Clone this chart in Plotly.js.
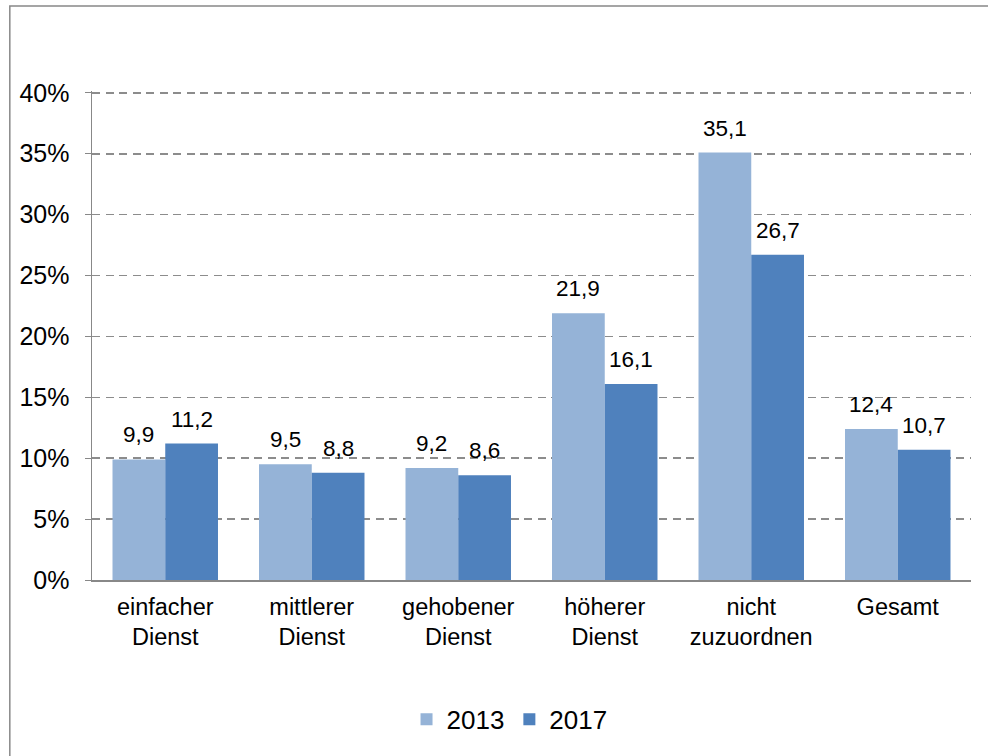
<!DOCTYPE html>
<html><head><meta charset="utf-8">
<script src="https://cdn.plot.ly/plotly-3.0.1.min.js"></script>
<style>html,body{margin:0;padding:0;background:#fff}#chart{width:988px;height:756px}</style>
</head><body><div id="chart"></div>
<script>
const categories = ["einfacher<br>Dienst","mittlerer<br>Dienst","gehobener<br>Dienst","höherer<br>Dienst","nicht<br>zuzuordnen","Gesamt"];
const values2013 = [9.9, 9.5, 9.2, 21.9, 35.1, 12.4];
const values2017 = [11.2, 8.8, 8.6, 16.1, 26.7, 10.7];
const seriesNames = ["2013","2017"];
const tickValues = [0, 5, 10, 15, 20, 25, 30, 35, 40];
const tickLabels = ["0%","5%","10%","15%","20%","25%","30%","35%","40%"];
const fmt = v => v.toFixed(1).replace('.', ',');
const font = "Liberation Sans, Arial, sans-serif";
const traces = [
  {type:'bar', name:seriesNames[0], x:categories, y:values2013, marker:{color:'#95B3D7'}},
  {type:'bar', name:seriesNames[1], x:categories, y:values2017, marker:{color:'#4F81BD'}}
];
const annotations = [];
[values2013, values2017].forEach((vals, s) => {
  vals.forEach((v, i) => annotations.push({
    x: categories[i], y: v, xref:'x', yref:'y', text: fmt(v), showarrow:false,
    xanchor:'center', yanchor:'bottom', xshift: s === 0 ? -26.4 : 26.4, yshift: 10,
    font:{family:font, size:22.5, color:'#000'}
  }));
});
const layout = {
  width:988, height:756,
  margin:{l:92, r:17, t:91, b:176},
  paper_bgcolor:'#fff', plot_bgcolor:'#fff',
  font:{family:font, color:'#000'},
  barmode:'group', bargap:0.28, bargroupgap:0,
  xaxis:{showline:true, linecolor:'#888', linewidth:1.5, ticks:'', tickfont:{size:23.5, family:font}, ticklabelstandoff:5, fixedrange:true},
  yaxis:{range:[0,40.15], tickmode:'array', tickvals:tickValues, ticktext:tickLabels, showline:true, linecolor:'#888', linewidth:1.5,
    ticks:'outside', ticklen:6, tickcolor:'#888', tickfont:{size:25, family:font}, ticklabelstandoff:10,
    showgrid:true, gridcolor:'#8c8c8c', griddash:'8px,5.5px', gridwidth:1.6, zeroline:false},
  showlegend:true,
  legend:{orientation:'h', x:0.475, xanchor:'center', y:-0.285, yanchor:'middle', font:{size:26, family:font}, traceorder:'normal', itemwidth:30},
  annotations: annotations,
  shapes:[{type:'rect', xref:'paper', yref:'paper', x0:-0.0935, x1:1.05, y0:-0.5, y1:1.174, line:{color:'#888', width:1.5}, fillcolor:'rgba(0,0,0,0)'}]
};
Plotly.newPlot('chart', traces, layout, {displayModeBar:false, staticPlot:true});
</script></body></html>
